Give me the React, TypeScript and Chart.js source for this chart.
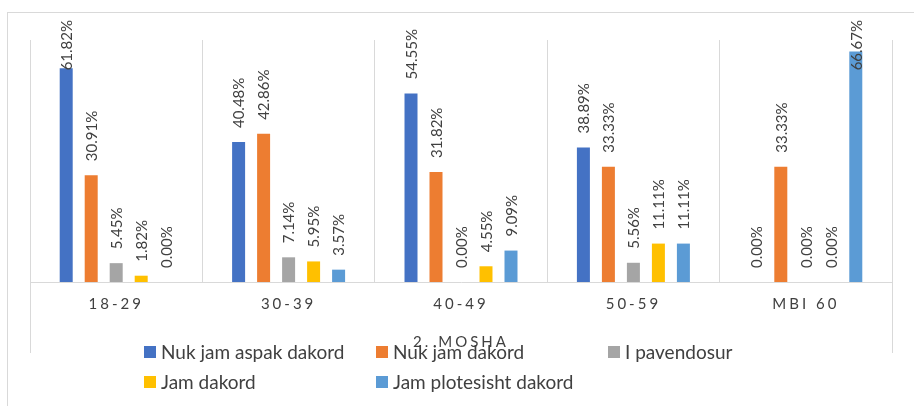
import React, { useEffect, useRef } from "react";
import { Chart, registerables } from "chart.js";

Chart.register(...registerables);

const categories = ["18-29", "30-39", "40-49", "50-59", "MBI 60"];
const seriesNames = [
  "Nuk jam aspak dakord",
  "Nuk jam dakord",
  "I pavendosur",
  "Jam dakord",
  "Jam plotesisht dakord",
];
const nukJamAspak = [61.82, 40.48, 54.55, 38.89, 0.0];
const nukJamDakord = [30.91, 42.86, 31.82, 33.33, 33.33];
const iPavendosur = [5.45, 7.14, 0.0, 5.56, 0.0];
const jamDakord = [1.82, 5.95, 4.55, 11.11, 0.0];
const jamPlotesisht = [0.0, 3.57, 9.09, 11.11, 66.67];
const seriesValues = [nukJamAspak, nukJamDakord, iPavendosur, jamDakord, jamPlotesisht];
const colors = ["#4472C4", "#ED7D31", "#A5A5A5", "#FFC000", "#5B9BD5"];
const axisTitle = "2. MOSHA";

const FONT = "Lato, 'Noto Sans', sans-serif";
const TEXT = "#404040";
const LINE = "#d9d9d9";

const framePlugin = {
  id: "frame",
  beforeDraw(chart: any) {
    const ctx = chart.ctx;
    ctx.save();
    ctx.fillStyle = "#ffffff";
    ctx.fillRect(0, 0, chart.width, chart.height);
    ctx.strokeStyle = LINE;
    ctx.lineWidth = 1;
    ctx.strokeRect(7.5, 12.5, 3000, 3000);
    ctx.restore();
  },
};

const spacingPlugin = {
  id: "spacing",
  beforeLayout(chart: any) {
    const xs: any = chart.scales.x;
    if (!xs || xs._spaced) return;
    const wrap = (name: string) => {
      const orig = xs[name].bind(xs);
      xs[name] = (...args: any[]) => {
        const c: any = chart.ctx;
        const prev = c.letterSpacing;
        c.letterSpacing = "3px";
        orig(...args);
        c.letterSpacing = prev || "0px";
      };
    };
    wrap("drawLabels");
    wrap("drawTitle");
    xs._spaced = true;
  },
};

const labelsPlugin = {
  id: "barLabels",
  afterDatasetsDraw(chart: any) {
    const ctx = chart.ctx;
    ctx.save();
    ctx.font = `15px ${FONT}`;
    ctx.fillStyle = TEXT;
    ctx.textAlign = "left";
    ctx.textBaseline = "middle";
    chart.data.datasets.forEach((ds: any, di: number) => {
      const meta = chart.getDatasetMeta(di);
      meta.data.forEach((bar: any, i: number) => {
        const txt = Number(ds.data[i]).toFixed(2) + "%";
        const w = ctx.measureText(txt).width;
        let start = bar.y - 14;
        if (start - w < 20) start = 20 + w;
        ctx.save();
        ctx.translate(bar.x + 1, start);
        ctx.rotate(-Math.PI / 2);
        ctx.fillText(txt, 0, 0);
        ctx.restore();
      });
    });
    ctx.restore();
  },
};

const extrasPlugin = {
  id: "extras",
  afterDraw(chart: any) {
    const ctx = chart.ctx;
    const a = chart.chartArea;
    ctx.save();
    ctx.strokeStyle = LINE;
    ctx.lineWidth = 1;
    [a.left, a.right].forEach((x: number) => {
      const px = Math.round(x) + 0.5;
      ctx.beginPath();
      ctx.moveTo(px, a.bottom);
      ctx.lineTo(px, 353);
      ctx.stroke();
    });
    // legend
    ctx.font = `19px ${FONT}`;
    ctx.textAlign = "left";
    ctx.textBaseline = "middle";
    chart.data.datasets.forEach((ds: any, i: number) => {
      const col = i % 3;
      const row = Math.floor(i / 3);
      const bx = 144 + col * 232;
      const cy = 352 + row * 30;
      ctx.fillStyle = ds.backgroundColor;
      ctx.fillRect(bx, cy - 6, 12, 12);
      ctx.fillStyle = TEXT;
      ctx.fillText(ds.label, bx + 17, cy + 1);
    });
    ctx.restore();
  },
};

export default function App() {
  const ref = useRef<HTMLCanvasElement>(null);
  useEffect(() => {
    document.body.style.margin = "0";
    const canvas = ref.current!;
    const chart = new Chart(canvas, {
      type: "bar",
      data: {
        labels: categories,
        datasets: seriesNames.map((name, i) => ({
          label: name,
          data: seriesValues[i],
          backgroundColor: colors[i],
          borderWidth: 0,
          barPercentage: 0.52,
          categoryPercentage: 0.725,
        })),
      },
      options: {
        animation: false,
        responsive: false,
        devicePixelRatio: 1,
        layout: { padding: { left: 30, right: 22, top: 40, bottom: 0 } },
        plugins: { legend: { display: false }, tooltip: { enabled: false } },
        scales: {
          x: {
            grid: { color: LINE, offset: true, drawTicks: false },
            border: { color: LINE },
            ticks: { color: TEXT, font: { family: FONT, size: 15 }, padding: 13 },
            title: {
              display: true,
              text: axisTitle,
              color: TEXT,
              font: { family: FONT, size: 15 },
              padding: { top: 0, bottom: 55 },
            },
            afterFit: (s: any) => {
              s.height = 124;
            },
          },
          y: { display: false, min: 0, max: 70 },
        },
      },
      plugins: [framePlugin, spacingPlugin, labelsPlugin, extrasPlugin],
    } as any);
    return () => chart.destroy();
  }, []);
  return <canvas ref={ref} width={914} height={406} style={{ display: "block" }} />;
}
